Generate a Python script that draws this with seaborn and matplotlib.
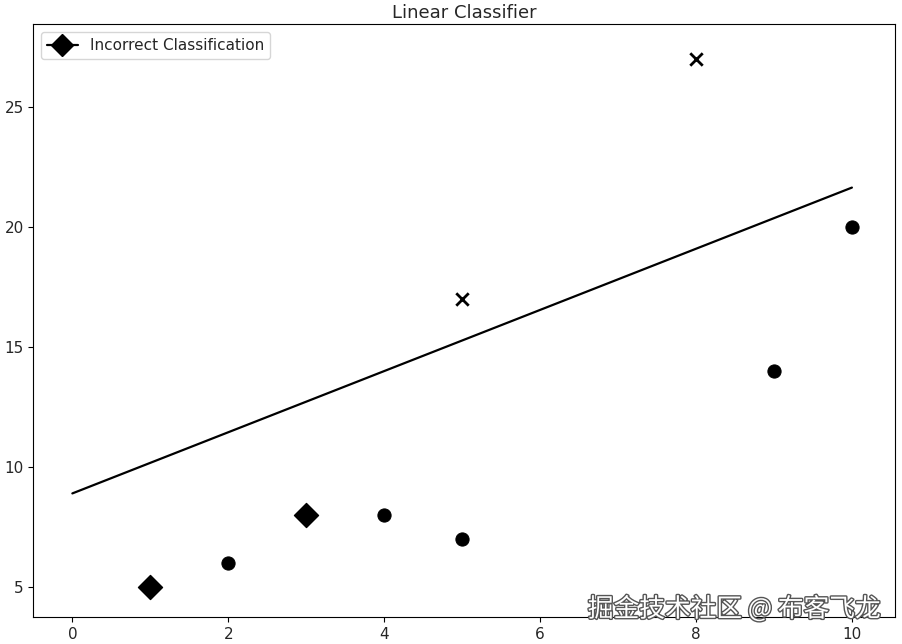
import matplotlib
matplotlib.use("Agg")
import matplotlib.pyplot as plt
import matplotlib.patheffects as pe
from matplotlib.lines import Line2D
import seaborn as sns

# points
circle_x = [2, 4, 5, 9, 10]
circle_y = [6, 8, 7, 14, 20]
cross_x = [5, 8]
cross_y = [17, 27]
wrong_x = [1, 3]
wrong_y = [5, 8]
# classifier line
line_x = [0, 10]
line_y = [8.9, 21.65]

sns.set_style("ticks")
plt.rcParams['font.family'] = ['DejaVu Sans']

fig = plt.figure(figsize=(9.02, 6.44), dpi=100)
ax = fig.add_axes([0.037, 0.042, 0.955, 0.92])

sns.lineplot(x=line_x, y=line_y, color='black', linewidth=1.6, ax=ax)
sns.scatterplot(x=circle_x, y=circle_y, marker='o', s=90, color='black',
                edgecolor='black', ax=ax)
sns.scatterplot(x=cross_x, y=cross_y, marker='x', s=80, color='black',
                linewidth=2, ax=ax)
sns.scatterplot(x=wrong_x, y=wrong_y, marker='D', s=150, color='black',
                edgecolor='black', ax=ax)

ax.set_xlim(-0.5, 10.55)
ax.set_ylim(3.75, 28.45)
ax.set_xticks([0, 2, 4, 6, 8, 10])
ax.set_yticks([5, 10, 15, 20, 25])
ax.tick_params(labelsize=11, direction='out', color='black')
for s in ax.spines.values():
    s.set_visible(True)
    s.set_color('black')
ax.set_title("Linear Classifier", fontsize=13, pad=5)

handle = Line2D([0], [0], color='black', marker='D', markersize=11, linewidth=1.6)
ax.legend([handle], ["Incorrect Classification"], loc='upper left', fontsize=11,
          frameon=True, edgecolor='#cccccc')

fig.text(0.977, 0.054, "掘金技术社区 @ 布客飞龙", ha='right', va='center',
         fontsize=18.5, color='white', family=['Noto Sans CJK SC', 'DejaVu Sans'],
         path_effects=[pe.withStroke(linewidth=2, foreground='#555555')])

fig.savefig("out.png", dpi=100)
